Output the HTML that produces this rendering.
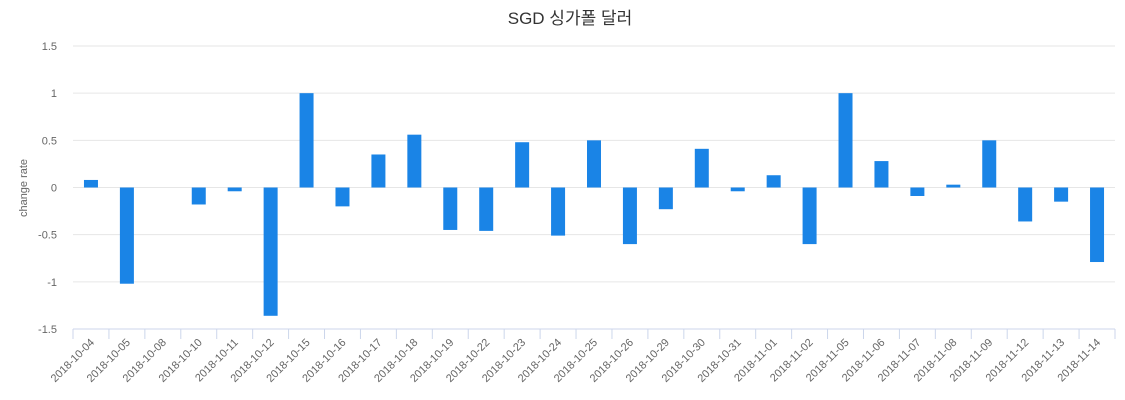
<!DOCTYPE html>
<html><head><meta charset="utf-8"><style>
body{margin:0;background:#fff;}
svg{display:block;font-family:"Liberation Sans","Noto Sans CJK KR",sans-serif;}
</style></head><body>
<svg id="chart" width="1125" height="400">
<text x="570" y="24" text-anchor="middle" font-size="17" fill="#333">SGD 싱가폴 달러</text>
<text transform="translate(27,188) rotate(-90)" text-anchor="middle" font-size="11" fill="#666">change rate</text>
<g id="grid"></g><g id="bars"></g><g id="xaxis"></g>
</svg>
<script>
const categories=["2018-10-04","2018-10-05","2018-10-08","2018-10-10","2018-10-11","2018-10-12","2018-10-15","2018-10-16","2018-10-17","2018-10-18","2018-10-19","2018-10-22","2018-10-23","2018-10-24","2018-10-25","2018-10-26","2018-10-29","2018-10-30","2018-10-31","2018-11-01","2018-11-02","2018-11-05","2018-11-06","2018-11-07","2018-11-08","2018-11-09","2018-11-12","2018-11-13","2018-11-14"];
const values=[0.08,-1.02,0,-0.18,-0.04,-1.36,1.0,-0.2,0.35,0.56,-0.45,-0.46,0.48,-0.51,0.5,-0.6,-0.23,0.41,-0.04,0.13,-0.6,1.0,0.28,-0.09,0.03,0.5,-0.36,-0.15,-0.79];
const yTicks=[1.5,1,0.5,0,-0.5,-1,-1.5];
const yTickLabels=["1.5","1","0.5","0","-0.5","-1","-1.5"];
const NS="http://www.w3.org/2000/svg";
const L=73,R=1115,T=46,B=329;
const y=v=>T+(1.5-v)/3*(B-T);
const bw=(R-L)/categories.length;
const x=i=>L+bw*i+bw/2;
function mk(tag,attrs,parent){const e=document.createElementNS(NS,tag);for(const k in attrs)e.setAttribute(k,attrs[k]);parent.appendChild(e);return e;}
const grid=document.getElementById('grid'),bars=document.getElementById('bars'),xa=document.getElementById('xaxis');
yTicks.forEach((t,i)=>{
 const ln=mk('line',{x1:L,x2:R,y1:y(t),y2:y(t),stroke:i==yTicks.length-1?'#ccd6eb':'#e6e6e6','stroke-width':1},grid);
 
 
 const tx=mk('text',{x:57,y:y(t)+4,'text-anchor':'end','font-size':11,fill:'#666'},grid);
 tx.textContent=yTickLabels[i];
 
 
});
categories.forEach((c,i)=>{
 const v=values[i];
 const r=mk('rect',{x:x(i)-7,y:Math.min(y(v),y(0)),width:14,height:Math.abs(y(v)-y(0)),fill:'#1a84e6'},bars);
 
 
 const tk=mk('line',{x1:L+bw*i,x2:L+bw*i,y1:B,y2:B+10,stroke:'#ccd6eb'},xa);
 
 
 const tx=mk('text',{transform:`translate(${x(i)+4},${B+14}) rotate(-45)`,'text-anchor':'end','font-size':11,fill:'#666'},xa);
 tx.textContent=c;
 
 
});
const last=mk('line',{x1:R,x2:R,y1:B,y2:B+10,stroke:'#ccd6eb'},xa);


</script>
</body></html>
